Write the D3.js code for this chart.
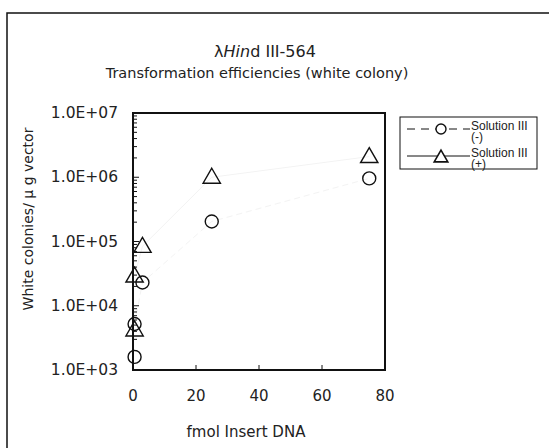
<!DOCTYPE html>
<html>
<head>
<meta charset="utf-8">
<script src="https://cdn.jsdelivr.net/npm/d3@7"></script>
<style>
  body { margin: 0; background: #fff; }
  text { font-family: "DejaVu Sans", sans-serif; fill: #222; }
  .lgtext { font-family: "Liberation Sans", Arial, sans-serif; }
</style>
</head>
<body>
<div id="chart"></div>
<script>
// data
var minusX = [0.5, 0.5, 3, 25, 75];
var minusY = [1.6e3, 5.2e3, 2.3e4, 2.05e5, 9.6e5];
var plusX = [0.5, 0.5, 3, 25, 75];
var plusY = [4.2e3, 2.9e4, 8.4e4, 1.0e6, 2.1e6];
var xTicks = [0, 20, 40, 60, 80];
var yTicks = [1e3, 1e4, 1e5, 1e6, 1e7];
var legendLabels = [["Solution III", "(-)"], ["Solution III", "(+)"]];

var W = 549, H = 448;
var svg = d3.select("#chart").append("svg").attr("width", W).attr("height", H);

// outer frame
svg.append("rect").attr("x", 7).attr("y", 13).attr("width", 560).attr("height", 460)
  .attr("fill", "none").attr("stroke", "#111").attr("stroke-width", 1.5);

var pLeft = 133, pRight = 385, pTop = 113, pBottom = 370;
var x = d3.scaleLinear().domain([0, 80]).range([pLeft, pRight]);
var y = d3.scaleLog().domain([1e3, 1e7]).range([pBottom, pTop]);

// titles
svg.append("text").attr("x", 265).attr("y", 57).attr("text-anchor", "middle")
  .style("font-size", "16px")
  .html('λ<tspan font-style="italic">Hin</tspan>d III-564');
svg.append("text").attr("x", 257).attr("y", 78).attr("text-anchor", "middle")
  .style("font-size", "14.5px").text("Transformation efficiencies (white colony)");

// faint connecting lines
var line = d3.line().x(function(d) { return x(d[0]); }).y(function(d) { return y(d[1]); });
var minusPts = d3.zip(minusX, minusY).slice(1);
var plusPts = d3.zip(plusX, plusY).slice(1);
svg.append("path").attr("d", line(minusPts)).attr("fill", "none")
  .attr("stroke", "#f3f3f3").attr("stroke-dasharray", "6,4");
svg.append("path").attr("d", line(plusPts)).attr("fill", "none").attr("stroke", "#f3f3f3");

// y minor ticks (inside)
var g = svg.append("g");
yTicks.slice(0, -1).forEach(function(t) {
  for (var k = 2; k <= 9; k++) {
    g.append("line").attr("x1", pLeft).attr("x2", pLeft + 4)
      .attr("y1", y(t * k)).attr("y2", y(t * k)).attr("stroke", "#111").attr("stroke-width", 1);
  }
  g.append("line").attr("x1", pLeft).attr("x2", pLeft + 6)
    .attr("y1", y(t)).attr("y2", y(t)).attr("stroke", "#111").attr("stroke-width", 1);
});
// x ticks (inside)
xTicks.slice(1, -1).forEach(function(t) {
  g.append("line").attr("x1", x(t)).attr("x2", x(t)).attr("y1", pBottom).attr("y2", pBottom - 5)
    .attr("stroke", "#111").attr("stroke-width", 1);
});

// plot box
svg.append("rect").attr("x", pLeft).attr("y", pTop).attr("width", pRight - pLeft).attr("height", pBottom - pTop)
  .attr("fill", "none").attr("stroke", "#111").attr("stroke-width", 2);

// tick labels
svg.selectAll(".ylab").data(yTicks).enter().append("text")
  .attr("x", 118).attr("y", function(d) { return y(d) + 5; })
  .attr("text-anchor", "end").style("font-size", "15.5px")
  .text(function(d) { return "1.0E+0" + Math.round(Math.log10(d)); });
svg.selectAll(".xlab").data(xTicks).enter().append("text")
  .attr("x", function(d) { return x(d); }).attr("y", 401)
  .attr("text-anchor", "middle").style("font-size", "15px")
  .text(function(d) { return d; });

// axis titles
svg.append("text").attr("x", 246).attr("y", 437).attr("text-anchor", "middle")
  .style("font-size", "15px").text("fmol Insert DNA");
svg.append("text").attr("transform", "translate(33,219) rotate(-90)")
  .attr("text-anchor", "middle").style("font-size", "14px")
  .text("White colonies/ μ g vector");

// markers
var tri = d3.symbol().type(d3.symbolTriangle).size(130);
svg.selectAll(".c").data(d3.zip(minusX, minusY)).enter().append("circle")
  .attr("cx", function(d) { return x(d[0]); }).attr("cy", function(d) { return y(d[1]); })
  .attr("r", 6.5).attr("fill", "none").attr("stroke", "#111").attr("stroke-width", 1.4);
svg.selectAll(".t").data(d3.zip(plusX, plusY)).enter().append("path")
  .attr("d", tri)
  .attr("transform", function(d) { return "translate(" + x(d[0]) + "," + (y(d[1]) + 1) + ")"; })
  .attr("fill", "none").attr("stroke", "#111").attr("stroke-width", 1.4);

// legend
var lg = svg.append("g");
lg.append("rect").attr("x", 400).attr("y", 117).attr("width", 137).attr("height", 52)
  .attr("fill", "#fff").attr("stroke", "#111").attr("stroke-width", 1);
legendLabels.forEach(function(lab, i) {
  var ly = 129 + i * 27;
  lg.append("line").attr("x1", 407).attr("x2", 470).attr("y1", ly).attr("y2", ly)
    .attr("stroke", "#111").attr("stroke-width", 1)
    .attr("stroke-dasharray", i === 0 ? "8,6" : null);
  if (i === 0) {
    lg.append("circle").attr("cx", 441).attr("cy", ly).attr("r", 5)
      .attr("fill", "#fff").attr("stroke", "#111").attr("stroke-width", 1.4);
  } else {
    lg.append("path").attr("d", d3.symbol().type(d3.symbolTriangle).size(80))
      .attr("transform", "translate(441," + (ly + 2) + ")")
      .attr("fill", "#fff").attr("stroke", "#111").attr("stroke-width", 1.6);
  }
  var t = lg.append("text").attr("class", "lgtext").attr("y", ly + 1).style("font-size", "12px");
  t.append("tspan").attr("x", 471).text(lab[0]);
  t.append("tspan").attr("x", 471).attr("dy", 11).text(lab[1]);
});
</script>
</body>
</html>
